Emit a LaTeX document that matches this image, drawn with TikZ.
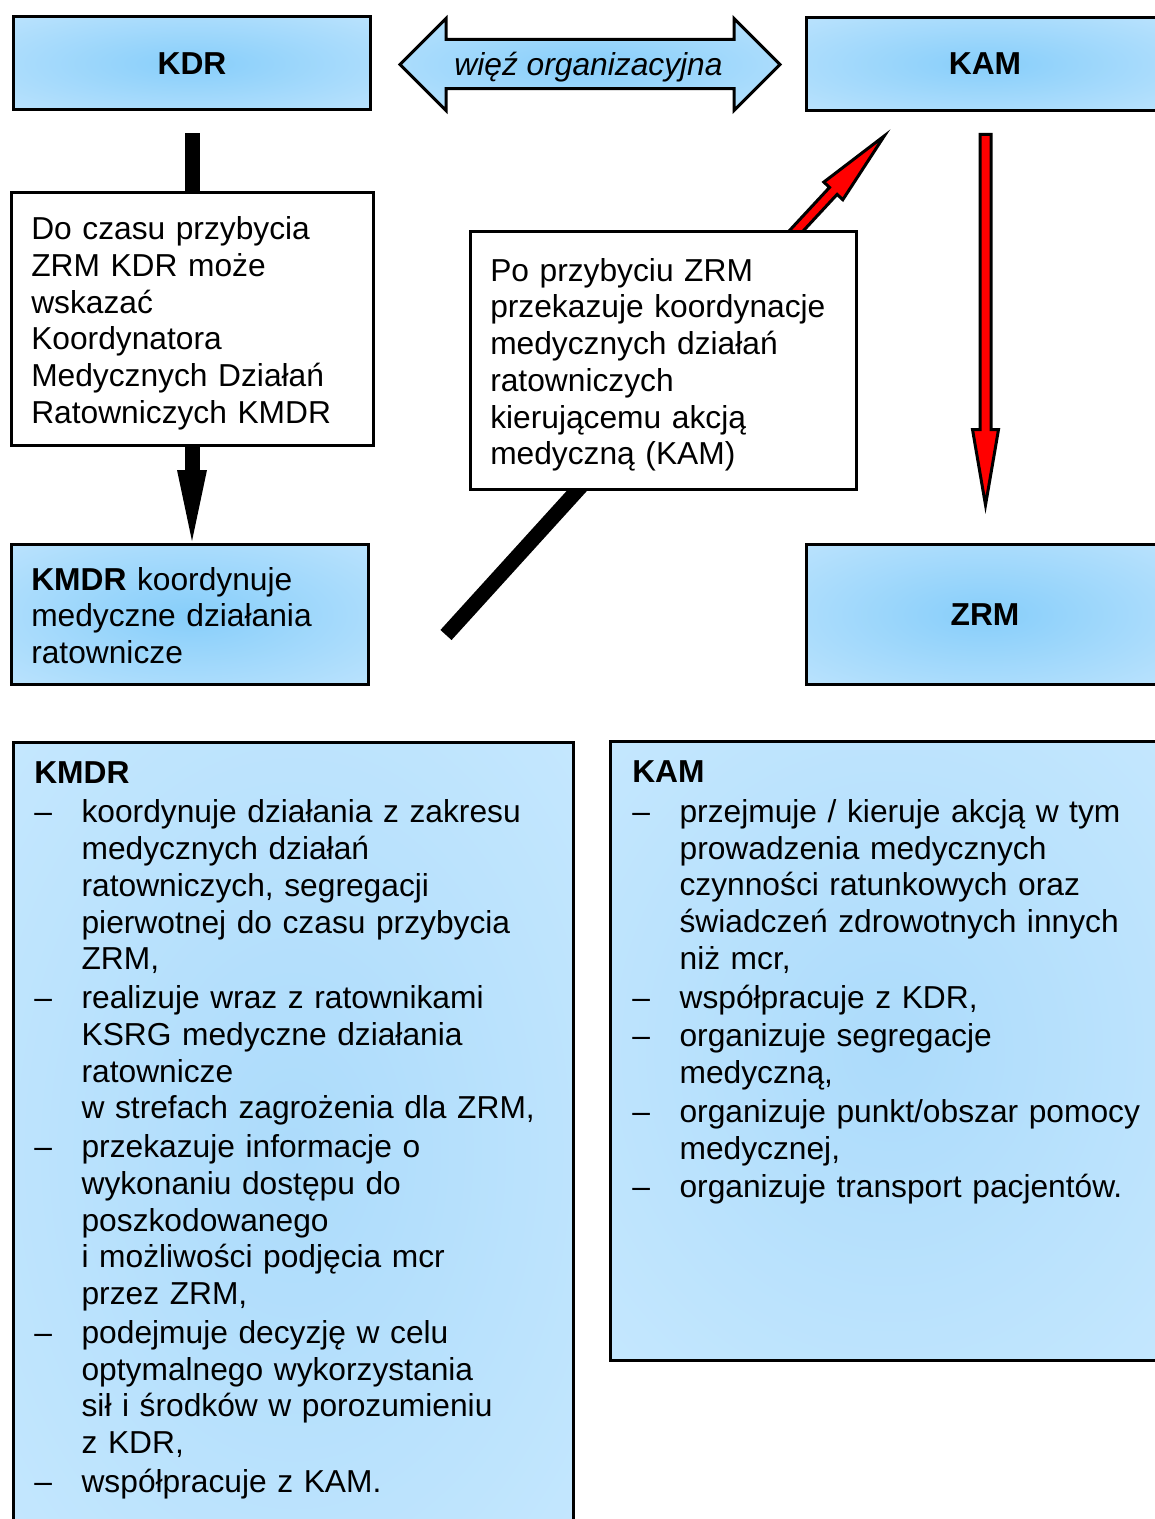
\documentclass[tikz,border=0pt]{standalone}
\usepackage{fontspec}
\setmainfont{Liberation Sans}

\definecolor{glowin}{RGB}{135,206,250}
\definecolor{glowmid}{RGB}{185,226,253}
\definecolor{glowout}{RGB}{226,242,255}
\definecolor{listin}{RGB}{172,219,251}
\definecolor{listmid}{RGB}{196,231,254}
\definecolor{listout}{RGB}{224,241,255}
% light blue fills, strongest in the middle and fading towards the corners
\pgfdeclareradialshading{boxglow}{\pgfpoint{0bp}{0bp}}{color(0bp)=(glowin); color(35bp)=(glowmid); color(71bp)=(glowout); color(80bp)=(glowout)}
\pgfdeclareradialshading{listglow}{\pgfpoint{0bp}{0bp}}{color(0bp)=(listin); color(35bp)=(listmid); color(71bp)=(listout); color(80bp)=(listout)}

% list helpers: dash in a fixed-width column, continuation lines indented
\newcommand\dashitem{\makebox[35.5pt][l]{–}}
\newcommand\contline{\hspace*{35.5pt}}
\newcommand\firstline{\rule{0pt}{20pt}}

\begin{document}
\begin{tikzpicture}[x=0.75pt,y=-0.75pt,
  every node/.style={font=\fontsize{23.8pt}{27.56pt}\selectfont},
  glowbox/.style={draw=black,line width=2.25pt,shading=boxglow,inner sep=0pt},
  listbox/.style={draw=black,line width=2.25pt,shading=listglow,inner sep=0pt},
  plainbox/.style={draw=black,line width=2.25pt,fill=white,inner sep=0pt},
  txtblock/.style={inner sep=0pt,anchor=north west,align=left,text width=400pt},
  fatline/.style={line width=11.25pt},
  redarrow/.style={fill=red,draw=black,line width=2.25pt,line join=miter}]
\useasboundingbox (0,0) rectangle (1155,1519);
\clip (0,0) rectangle (1155,1519);

% top row and middle row boxes
\node[glowbox,minimum width=267.75pt,minimum height=69.75pt] (kdr) at (192,63.5) {\textbf{KDR}};
\node[glowbox,minimum width=267.75pt,minimum height=69.75pt] (kam) at (985,64) {\textbf{KAM}};
\node[glowbox,minimum width=267.75pt,minimum height=105pt] (kmdr) at (190,614.5) {};
\node[glowbox,minimum width=267.75pt,minimum height=105pt] (zrm) at (985,614.5) {\textbf{ZRM}};

% two-headed link between KDR and KAM
\draw[line width=2.25pt,line join=miter,shading=boxglow]
  (400,64.5) -- (446,18.5) -- (446,39.5) -- (734,39.5) -- (734,18.5) -- (780,64.5)
  -- (734,110.5) -- (734,88.7) -- (446,88.7) -- (446,110.5) -- cycle;
\node[font=\fontsize{23.8pt}{27.56pt}\selectfont\itshape,anchor=base,inner sep=0pt] (link) at (588.5,76) {więź organizacyjna};

% KDR hands over to KMDR
\coordinate (kmdrentry) at (kdr.south |- kmdr.north);
\draw[fatline,shorten <=16.5pt] (kdr.south) -- ([yshift=53pt]kmdrentry);
\fill ([xshift=-11.25pt,yshift=54.75pt]kmdrentry) -- ([xshift=11.25pt,yshift=54.75pt]kmdrentry)
  -- ([yshift=1.5pt]kmdrentry) -- cycle;

% KMDR passes coordination on
\coordinate (handfoot) at (446,635);
\coordinate (handtop) at (594,472);
\draw[fatline] (handfoot) -- (handtop);

% red arrow towards KAM
\coordinate (redtail) at (744.9,286.2);
\coordinate (redtip) at (884.3,135.9);
\draw[redarrow] (741.1,282.7) -- (829.5,187.4) -- (823.8,182.1) -- (redtip)
  -- (842.8,199.7) -- (837.1,194.4) -- (748.7,289.7) -- cycle;

% red arrow from KAM down to ZRM
\draw[redarrow] (980,134.5) -- (991,134.5) -- (991,429.5) -- (998.5,429.5) -- (985.5,505)
  -- (972.5,429.5) -- (980,429.5) -- cycle;

% white note boxes
\node[plainbox,minimum width=271.5pt,minimum height=189.75pt] (before) at (192.5,319) {};
\node[txtblock] (beforetxt) at (31,212.6) {\firstline Do czasu przybycia\\ZRM KDR może\\wskazać\\Koordynatora\\Medycznych Działań\\Ratowniczych KMDR};

\node[plainbox,minimum width=289.5pt,minimum height=193.5pt] (after) at (663.5,360.5) {};
\node[txtblock] (aftertxt) at (490,254.3) {\firstline Po przybyciu ZRM\\przekazuje koordynacje\\medycznych działań\\ratowniczych\\kierującemu akcją\\medyczną (KAM)};

\node[txtblock] (kmdrtxt) at (31,563.3) {\firstline\textbf{KMDR} koordynuje\\medyczne działania\\ratownicze};

% task lists
\node[listbox,minimum width=420pt,minimum height=613.1pt] (kmdrlist) at (293.5,1151.25) {};
\node[txtblock] (kmdrlisttxt) at (34,756.3) {\firstline\textbf{KMDR}\\[2.25pt]
\dashitem koordynuje działania z zakresu\\
\contline medycznych działań\\
\contline ratowniczych, segregacji\\
\contline pierwotnej do czasu przybycia\\
\contline ZRM,\\[1.5pt]
\dashitem realizuje wraz z ratownikami\\
\contline KSRG medyczne działania\\
\contline ratownicze\\
\contline w strefach zagrożenia dla ZRM,\\[1.5pt]
\dashitem przekazuje informacje o\\
\contline wykonaniu dostępu do\\
\contline poszkodowanego\\
\contline i możliwości podjęcia mcr\\
\contline przez ZRM,\\[1.5pt]
\dashitem podejmuje decyzję w celu\\
\contline optymalnego wykorzystania\\
\contline sił i środków w porozumieniu\\
\contline z KDR,\\[1.5pt]
\dashitem współpracuje z KAM.};

\node[listbox,minimum width=420pt,minimum height=464.25pt] (kamlist) at (890.5,1051) {};
\node[txtblock] (kamlisttxt) at (632,755.8) {\firstline\textbf{KAM}\\[2.25pt]
\dashitem przejmuje / kieruje akcją w tym\\
\contline prowadzenia medycznych\\
\contline czynności ratunkowych oraz\\
\contline świadczeń zdrowotnych innych\\
\contline niż mcr,\\[1.5pt]
\dashitem współpracuje z KDR,\\[1.5pt]
\dashitem organizuje segregacje\\
\contline medyczną,\\[1.5pt]
\dashitem organizuje punkt/obszar pomocy\\
\contline medycznej,\\[1.5pt]
\dashitem organizuje transport pacjentów.};
\end{tikzpicture}
\end{document}
